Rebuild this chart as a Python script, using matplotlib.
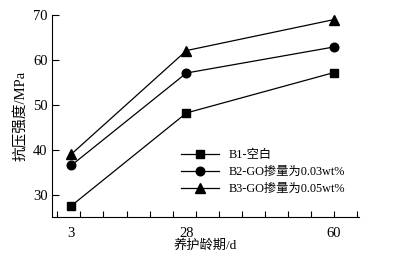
import matplotlib
matplotlib.use("Agg")
import matplotlib.pyplot as plt

plt.rcParams['font.family'] = ['Liberation Serif', 'Noto Sans CJK SC']

days = [3, 28, 60]
b1 = [27.5, 48.2, 57.2]
b2 = [36.5, 57.1, 62.9]
b3 = [39.0, 62.1, 69.0]
labels = ['B1-空白', 'B2-GO掺量为0.03wt%', 'B3-GO掺量为0.05wt%']
yticks = [30, 40, 50, 60, 70]

fig = plt.figure(figsize=(3.93, 2.56), dpi=100)
ax = fig.add_axes([0.132, 0.152, 0.781, 0.789])

ax.plot(days, b1, '-s', color='black', lw=0.9, ms=6, label=labels[0])
ax.plot(days, b2, '-o', color='black', lw=0.9, ms=6.2, label=labels[1])
ax.plot(days, b3, '-^', color='black', lw=0.9, ms=6.5, label=labels[2])

ax.set_xlim(-1.2, 65.4)
ax.set_ylim(25, 70)
ax.set_yticks(yticks)
ax.xaxis.remove_overlapping_locs = False
ax.set_xticks(range(0, 66, 5))
ax.set_xticklabels([])
ax.set_xticks(days, minor=True)
ax.set_xticklabels([str(d) for d in days], minor=True)
ax.tick_params(axis='x', which='major', direction='in', length=4, width=0.8)
ax.tick_params(axis='x', which='minor', length=0, pad=7, labelsize=10.5)
ax.tick_params(axis='y', direction='in', length=5, width=0.8, labelsize=10.5, pad=3)

for s in ['top', 'right']:
    ax.spines[s].set_visible(False)
for s in ['left', 'bottom']:
    ax.spines[s].set_linewidth(0.8)

ax.set_ylabel('抗压强度/MPa', fontsize=10.5, labelpad=4)
ax.set_xlabel('养护龄期/d', fontsize=9.5, labelpad=0)

ax.legend(loc='center left', bbox_to_anchor=(0.384, 0.223), frameon=False, fontsize=8.8,
          handlelength=3.1, handletextpad=0.8, labelspacing=0.42)

fig.savefig('out.png', dpi=100)
